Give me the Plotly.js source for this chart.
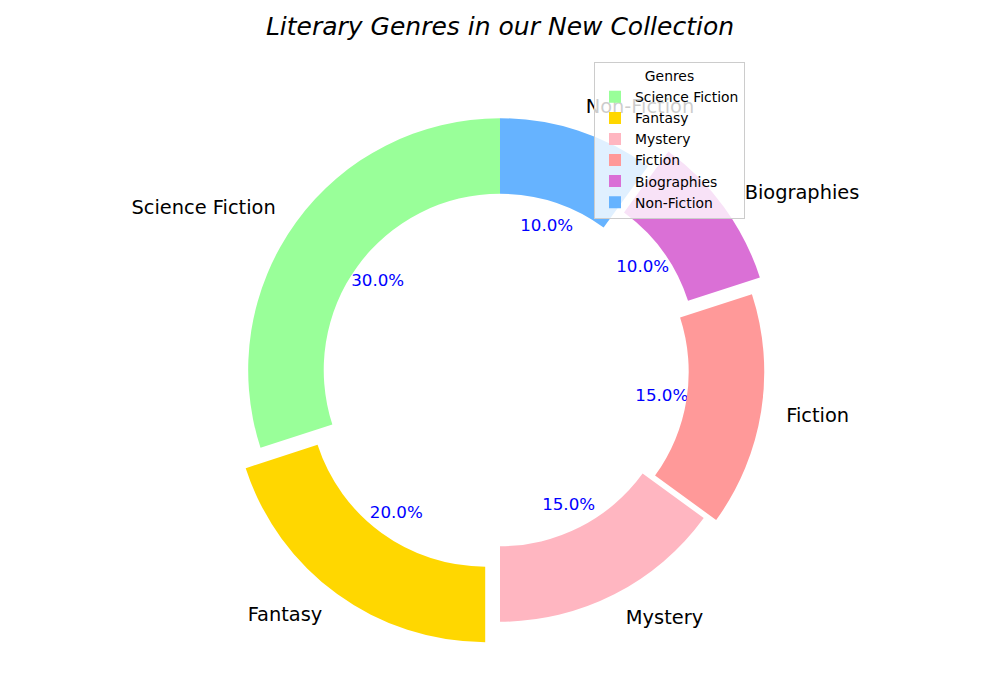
<!DOCTYPE html>
<html>
<head>
<meta charset="utf-8">
<script src="https://cdn.plot.ly/plotly-3.0.1.min.js"></script>
<style>html,body{margin:0;padding:0;background:#fff;}#chart{width:1000px;height:700px;}</style>
</head>
<body>
<div id="chart"></div>
<script>
var genres = ["Science Fiction", "Fantasy", "Mystery", "Fiction", "Biographies", "Non-Fiction"];
var shares = [30, 20, 15, 15, 10, 10];
var colors = ["#99FF99", "#FFD700", "#FFB6C1", "#FF9999", "#DA70D6", "#66B3FF"];
var pulls = [0, 0.1, 0, 0.05, 0.1, 0];

var W = 1000, H = 700;
var margin = {l: 0, r: 0, t: 92.8, b: 52.8};
var plotW = W - margin.l - margin.r;
var plotH = H - margin.t - margin.b;
var maxPull = Math.max.apply(null, pulls);
var R = Math.min(plotW, plotH) / 2 / (1 + maxPull);
var cx = margin.l + plotW / 2;
var cy = margin.t + plotH / 2;
var labelNudge = 2, pctNudge = 1;

function toPaperX(px) { return (px - margin.l) / plotW; }
function toPaperY(py) { return (H - margin.b - py) / plotH; }

var total = shares.reduce(function (a, b) { return a + b; }, 0);
var labelX = [], labelY = [], labelPos = [];
var pctX = [], pctY = [], pctText = [];
var start = 90;
for (var i = 0; i < genres.length; i++) {
  var sweep = 360 * shares[i] / total;
  var mid = (start + sweep / 2) * Math.PI / 180;
  var off = pulls[i] * R;
  var ox = cx + off * Math.cos(mid);
  var oy = cy - off * Math.sin(mid);
  var lx = ox + 1.1 * R * Math.cos(mid);
  var ly = oy - 1.1 * R * Math.sin(mid);
  labelX.push(lx); labelY.push(ly + labelNudge);
  labelPos.push((lx - cx) > 0 ? "middle right" : "middle left");
  pctX.push(ox + 0.6 * R * Math.cos(mid));
  pctY.push(oy - 0.6 * R * Math.sin(mid) + pctNudge);
  pctText.push((100 * shares[i] / total).toFixed(1) + "%");
  start += sweep;
}

var data = [{
  type: "pie",
  labels: genres,
  values: shares,
  marker: {colors: colors, line: {width: 0}},
  pull: pulls,
  hole: 0.7,
  sort: false,
  direction: "counterclockwise",
  rotation: -360 * shares[0] / total,
  textinfo: "none",
  hoverinfo: "label+percent",
  domain: {x: [0, 1], y: [0, 1]}
}, {
  type: "scatter",
  mode: "text",
  x: labelX, y: labelY,
  text: genres,
  textposition: labelPos,
  textfont: {family: "DejaVu Sans", size: 19.4, color: "#000000"},
  showlegend: false, hoverinfo: "skip",
  cliponaxis: false
}, {
  type: "scatter",
  mode: "text",
  x: pctX, y: pctY,
  text: pctText,
  textposition: "middle center",
  textfont: {family: "DejaVu Sans", size: 16.7, color: "#0000FF"},
  showlegend: false, hoverinfo: "skip",
  cliponaxis: false
}];

var layout = {
  width: W, height: H,
  margin: margin,
  paper_bgcolor: "#ffffff",
  plot_bgcolor: "rgba(0,0,0,0)",
  font: {family: "DejaVu Sans", color: "#000000"},
  xaxis: {range: [margin.l, W - margin.r], visible: false, showgrid: false, zeroline: false, fixedrange: true},
  yaxis: {range: [H - margin.b, margin.t], visible: false, showgrid: false, zeroline: false, fixedrange: true},
  title: {
    text: "Literary Genres in our New Collection",
    font: {family: "DejaVu Sans", size: 25, style: "italic", color: "#000000"},
    x: 0.5, xanchor: "center", xref: "paper",
    y: 1 - 26 / H, yanchor: "middle", yref: "container"
  },
  showlegend: true,
  legend: {
    x: toPaperX(745), xanchor: "right",
    y: toPaperY(62), yanchor: "top",
    bgcolor: "rgba(255,255,255,0.8)",
    bordercolor: "#cccccc", borderwidth: 1,
    font: {family: "DejaVu Sans", size: 13.9, color: "#000000"},
    title: {text: "Genres", side: "top center", font: {family: "DejaVu Sans", size: 13.9, color: "#000000"}}
  }
};

Plotly.newPlot("chart", data, layout, {displayModeBar: false, staticPlot: true});
</script>
</body>
</html>
